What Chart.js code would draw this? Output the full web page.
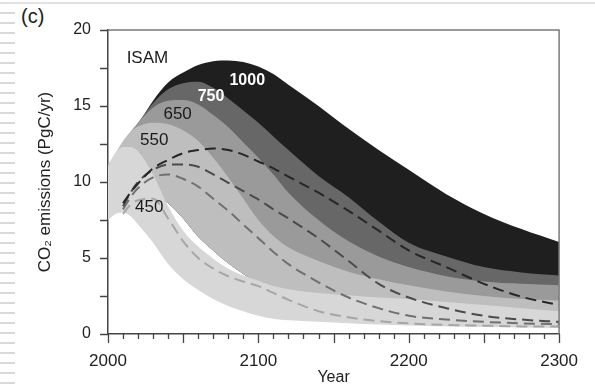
<!DOCTYPE html>
<html lang="en">
<head>
<meta charset="utf-8">
<title>ISAM - CO2 emissions</title>
<script src="https://cdn.jsdelivr.net/npm/chart.js@4"></script>
<style>
  html, body { margin: 0; padding: 0; background: #fff; }
  body { width: 595px; height: 387px; position: relative; overflow: hidden; font-family: "Liberation Sans", Arial, sans-serif; }
  #lineaTop { position: absolute; left: 0; top: 2px; width: 595px; height: 2px; background: #e2e2e2; }
  #rayas { position: absolute; left: 0; top: 12px; width: 15px; height: 372px;
           background: repeating-linear-gradient(to bottom, #d9d9d9 0 2px, transparent 2px 10px); }
  #panel { position: absolute; left: 21px; top: 6px; font-size: 20px; line-height: 1; color: #222; }
  canvas { position: absolute; left: 0; top: 0; }
</style>
</head>
<body>
<div id="lineaTop"></div>
<div id="rayas"></div>
<div id="panel">(c)</div>
<canvas id="grafico" width="595" height="387"></canvas>
<script>
// Datos (PgC/yr)
const anios = [2000, 2005, 2010, 2015, 2020, 2030, 2040, 2050, 2060, 2070, 2080, 2090, 2100, 2110, 2120, 2140, 2160, 2180, 2200, 2225, 2250, 2275, 2300];

// limites superiores de cada banda
const sup1000 = [10.8, 11.6, 12.4, 13.1, 13.8, 15.35, 16.55, 17.2, 17.7, 17.95, 18.0, 17.9, 17.6, 17.1, 16.4, 15.0, 13.5, 12.1, 10.8, 9.2, 7.9, 6.9, 6.05];
const sup750 = [10.9, 11.7, 12.5, 13.2, 13.9, 15.2, 16.1, 16.5, 16.6, 16.2, 15.5, 14.7, 13.9, 13.0, 12.1, 10.4, 9.0, 7.4, 6.0, 5.1, 4.4, 4.05, 3.85];
const sup650 = [11.0, 11.8, 12.6, 13.3, 13.9, 14.9, 15.35, 15.4, 15.1, 14.4, 13.6, 12.6, 11.6, 10.5, 9.3, 7.5, 6.1, 5.1, 4.4, 3.8, 3.45, 3.3, 3.2];
const sup550 = [11.1, 11.9, 12.7, 13.3, 13.65, 13.9, 13.8, 13.4, 12.7, 11.6, 10.3, 8.9, 7.5, 6.45, 5.7, 4.8, 4.1, 3.6, 3.2, 2.8, 2.5, 2.3, 2.2];
const sup450 = [11.0, 11.9, 12.3, 12.3, 12.0, 10.5, 8.4, 6.8, 5.75, 4.95, 4.3, 3.85, 3.5, 3.15, 2.95, 2.7, 2.55, 2.4, 2.3, 2.1, 1.9, 1.7, 1.5];

// limites inferiores
const inf550 = [9.0, 9.3, 9.5, 9.5, 9.4, 9.2, 8.6, 7.6, 6.4, 5.5, 4.65, 3.95, 3.3, 2.9, 2.7, 2.4, 2.2, 2.0, 1.9, 1.75, 1.6, 1.45, 1.3];
const inf450 = [7.5, 7.9, 8.0, 7.75, 7.2, 6.0, 4.6, 3.6, 2.9, 2.3, 1.85, 1.5, 1.2, 1.0, 0.9, 0.8, 0.7, 0.62, 0.56, 0.5, 0.46, 0.43, 0.4];

// lineas punteadas (valor central)
const med1000 = [null, null, 8.6, 9.3, 9.9, 10.9, 11.45, 11.9, 12.1, 12.2, 12.1, 11.8, 11.35, 10.9, 10.35, 9.3, 8.1, 6.8, 5.5, 4.4, 3.3, 2.45, 1.9];
const med750 = [null, null, 8.4, 9.3, 10.0, 10.8, 11.15, 11.15, 11.0, 10.5, 9.95, 9.4, 8.85, 8.2, 7.6, 6.3, 4.8, 3.3, 2.4, 1.7, 1.2, 0.95, 0.8];
const med650 = [null, null, 8.2, 9.0, 9.6, 10.3, 10.5, 10.2, 9.7, 8.9, 8.1, 7.2, 6.3, 5.4, 4.6, 3.4, 2.4, 1.7, 1.2, 0.95, 0.8, 0.7, 0.65];
const med550 = [null, null, 7.9, 8.5, 8.8, 8.9, 7.6, 6.1, 5.0, 4.3, 3.8, 3.45, 3.15, 2.7, 2.25, 1.5, 1.1, 0.85, 0.7, 0.6, 0.55, 0.5, 0.5];

const ticksX = [2000, 2100, 2200, 2300];
const ticksY = [0, 5, 10, 15, 20];

// Rotulos dentro del grafico
const fuente = '"Liberation Sans", Arial, sans-serif';
const rotulos = [
  { texto: 'ISAM', anio: 2012.4, valor: 18.15, color: '#1a1a1a', font: '17px ' + fuente, align: 'left' },
  { texto: '1000', anio: 2092.6, valor: 16.7, color: '#ffffff', font: 'bold 16px ' + fuente, align: 'center' },
  { texto: '750', anio: 2068.5, valor: 15.6, color: '#ffffff', font: 'bold 16px ' + fuente, align: 'center' },
  { texto: '650', anio: 2046.3, valor: 14.45, color: '#1a1a1a', font: '17px ' + fuente, align: 'center' },
  { texto: '550', anio: 2030.7, valor: 12.75, color: '#1a1a1a', font: '17px ' + fuente, align: 'center' },
  { texto: '450', anio: 2027.4, valor: 8.35, color: '#1a1a1a', font: '17px ' + fuente, align: 'center' }
];

const pts = vals => anios.map((a, i) => ({ x: a, y: vals[i] }));

function banda(vals, color, destino, orden) {
  return {
    data: pts(vals), fill: destino, backgroundColor: color,
    borderColor: 'rgba(0,0,0,0)', borderWidth: 0, pointRadius: 0, order: orden
  };
}

function punteada(vals, color) {
  return {
    data: pts(vals), fill: false, borderColor: color, borderWidth: 2,
    borderDash: [11, 6], pointRadius: 0, order: 0
  };
}

function oculta(vals) {
  return { data: pts(vals), fill: false, borderColor: 'rgba(0,0,0,0)', borderWidth: 0, pointRadius: 0, order: 10 };
}

// indices: 4 = inf450, 5 = inf550
const datasets = [
  punteada(med1000, '#262626'),
  punteada(med750, '#4a4a4a'),
  punteada(med650, '#707070'),
  punteada(med550, '#a6a6a6'),
  oculta(inf450),
  oculta(inf550),
  banda(sup450, '#d7d7d7', 4, 1),
  banda(sup550, '#bebebe', 5, 2),
  banda(sup650, '#9a9a9a', 5, 3),
  banda(sup750, '#676767', 5, 4),
  banda(sup1000, '#1f1f1f', 5, 5)
];

// Marco superior/derecho y marcas de los ejes
const marcoPlugin = {
  id: 'marco',
  afterDraw(chart) {
    const { ctx, chartArea: a, scales: { x, y } } = chart;
    ctx.save();
    ctx.strokeStyle = '#7a7a7a';
    ctx.lineWidth = 1.5;
    ctx.beginPath();
    ctx.moveTo(a.left, a.top);
    ctx.lineTo(a.right, a.top);
    ctx.lineTo(a.right, a.bottom);
    ctx.stroke();

    ctx.strokeStyle = '#444';
    ctx.lineWidth = 1.3;
    ctx.beginPath();
    for (let v = 0; v <= 20; v += 2.5) {
      const py = Math.round(y.getPixelForValue(v)) + 0.5;
      ctx.moveTo(a.left - 8, py);
      ctx.lineTo(a.left, py);
    }
    for (let yr = 2000; yr <= 2300; yr += 10) {
      const px = Math.round(x.getPixelForValue(yr)) + 0.5;
      const largo = yr % 50 === 0 ? 9 : 5;
      ctx.moveTo(px, a.bottom);
      ctx.lineTo(px, a.bottom + largo);
    }
    ctx.stroke();
    ctx.restore();
  }
};

const rotulosPlugin = {
  id: 'rotulos',
  afterDatasetsDraw(chart) {
    const { ctx, scales: { x, y } } = chart;
    ctx.save();
    ctx.textBaseline = 'middle';
    rotulos.forEach(r => {
      ctx.font = r.font;
      ctx.fillStyle = r.color;
      ctx.textAlign = r.align;
      ctx.fillText(r.texto, x.getPixelForValue(r.anio), y.getPixelForValue(r.valor));
    });
    ctx.restore();
  }
};

new Chart(document.getElementById('grafico'), {
  type: 'line',
  data: { datasets },
  options: {
    responsive: false,
    animation: false,
    layout: { padding: { left: 0, top: 30, right: 27, bottom: 0 } },
    plugins: { legend: { display: false }, tooltip: { enabled: false } },
    elements: { line: { cubicInterpolationMode: 'monotone' } },
    scales: {
      x: {
        type: 'linear', min: 2000, max: 2300,
        afterBuildTicks: s => { s.ticks = ticksX.map(v => ({ value: v })); },
        afterFit: s => { s.height = 53; },
        grid: { display: false, drawTicks: false },
        border: { display: true, color: '#444', width: 1.5 },
        ticks: { color: '#222', font: { family: fuente, size: 17 }, padding: 17, maxRotation: 0, autoSkip: false,
                 callback: v => String(v) },
        title: { display: true, text: 'Year', color: '#222', font: { family: fuente, size: 16 }, padding: { top: 0, bottom: 0 } }
      },
      y: {
        min: 0, max: 20,
        afterBuildTicks: s => { s.ticks = ticksY.map(v => ({ value: v })); },
        afterFit: s => { s.width = 108; },
        grid: { display: false, drawTicks: false },
        border: { display: true, color: '#444', width: 1.5 },
        ticks: { color: '#222', font: { family: fuente, size: 16 }, padding: 17 },
        title: { display: true, text: 'CO\u2082 emissions (PgC/yr)', color: '#222', font: { family: fuente, size: 17 }, padding: { top: 35, bottom: 0 } }
      }
    }
  },
  plugins: [marcoPlugin, rotulosPlugin]
});
</script>
</body>
</html>
